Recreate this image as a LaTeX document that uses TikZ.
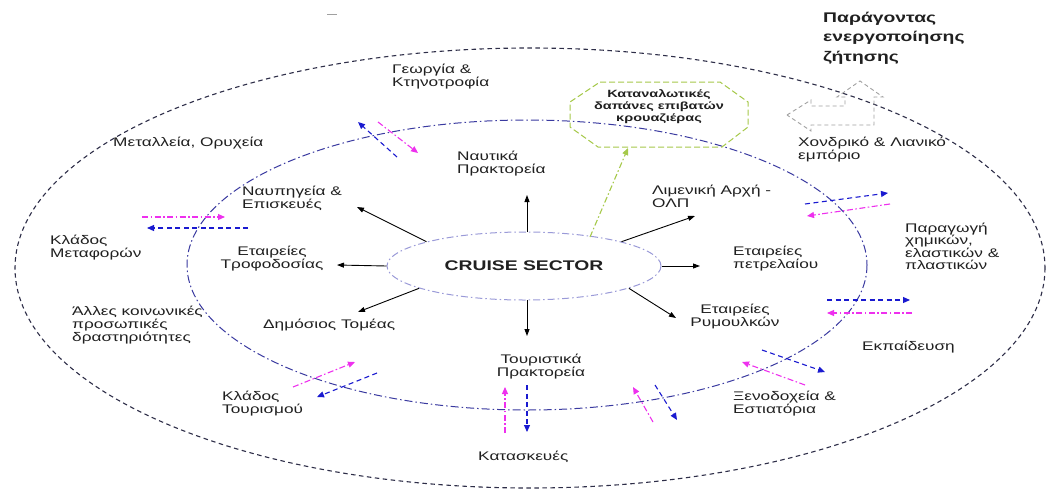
\documentclass[tikz,border=0pt]{standalone}
\usepackage{fontspec}
\setmainfont{Liberation Sans}[FakeStretch=1.38]
\usetikzlibrary{arrows.meta,shapes.geometric}
\definecolor{outerc}{HTML}{2E2E48}
\definecolor{innerc}{HTML}{3A3AA0}
\definecolor{corec}{HTML}{9A9AD8}
\definecolor{bluea}{HTML}{1A1AD0}
\definecolor{maga}{HTML}{EE30EE}
\definecolor{greenc}{HTML}{A6C94A}
\definecolor{grayc}{HTML}{A0A0A0}
\definecolor{txt}{HTML}{202020}
\begin{document}
\begin{tikzpicture}[x=1pt,y=-1pt,
  lbl/.style={font=\fontsize{12.5}{13}\selectfont, text=txt, inner sep=0pt, align=left, anchor=west},
  lblc/.style={font=\fontsize{12.5}{13}\selectfont, text=txt, inner sep=0pt, align=center, anchor=center},
  blk/.style={-{Triangle[length=7pt,width=5pt]}, line width=0.9pt, black},
  barr/.style={bluea, line width=1.1pt, dash pattern=on 5pt off 3.5pt, -{Triangle[length=7pt,width=6pt]}},
  marr/.style={maga, line width=1.1pt, dash pattern=on 6pt off 2.5pt on 1.5pt off 2.5pt, -{Triangle[length=7pt,width=6pt]}},
  garr/.style={greenc, line width=1.1pt, dash pattern=on 6pt off 2.5pt on 1.5pt off 2.5pt, -{Triangle[length=7pt,width=6pt]}}
]
\useasboundingbox (0,0) rectangle (1052,490);
\fill[white] (0,0) rectangle (1052,490);

% small mark at top
\draw[grayc, line width=0.8pt] (327,14) -- (337,14);

% outer and inner rings
\draw[outerc, line width=1.1pt, dash pattern=on 4.5pt off 3.5pt] (530,268) ellipse [x radius=515, y radius=220];
\draw[innerc, line width=1pt, dash pattern=on 8pt off 3pt on 1.5pt off 3pt] (527,265) ellipse [x radius=340, y radius=145];

% core
\node[ellipse, draw=corec, line width=1pt, dash pattern=on 7pt off 3pt on 1.5pt off 3pt,
      minimum width=274pt, minimum height=68pt, inner sep=0pt,
      font=\bfseries\fontsize{14}{15}\selectfont, text=txt] (cs) at (524,266) {CRUISE SECTOR};

% labels
\node[lbl] (geo) at (392,76.5) {Γεωργία \&\\Κτηνοτροφία};
\node[lbl] (met) at (113,143) {Μεταλλεία, Ορυχεία};
\node[lbl] (nav) at (457,163.5) {Ναυτικά\\Πρακτορεία};
\node[lbl] (nau) at (242,198.5) {Ναυπηγεία \&\\Επισκευές};
\node[lbl] (kme) at (50,247.5) {Κλάδος\\Μεταφορών};
\node[lblc] (tro) at (272,258.5) {Εταιρείες\\Τροφοδοσίας};
\node[lbl] (all) at (72,325) {Άλλες κοινωνικές\\προσωπικές\\δραστηριότητες};
\node[lbl] (dim) at (263,325) {Δημόσιος Τομέας};
\node[lbl] (ktou) at (222,403.5) {Κλάδος\\Τουρισμού};
\node[lblc] (toup) at (541,366.5) {Τουριστικά\\Πρακτορεία};
\node[lbl] (kat) at (478,457) {Κατασκευές};
\node[lbl] (xen) at (733,403.5) {Ξενοδοχεία \&\\Εστιατόρια};
\node[lbl] (ekp) at (862,347) {Εκπαίδευση};
\node[lblc] (rym) at (735,316) {Εταιρείες\\Ρυμουλκών};
\node[lbl] (pet) at (733,258.5) {Εταιρείες\\πετρελαίου};
\node[lbl] (lim) at (652,196.5) {Λιμενική Αρχή -\\ΟΛΠ};
\node[lbl] (cho) at (798,149.5) {Χονδρικό \& Λιανικό\\εμπόριο};
\node[lbl, font=\fontsize{12.5}{12.5}\selectfont] (par) at (905,246.5) {Παραγωγή\\χημικών,\\ελαστικών \&\\πλαστικών};
\node[lbl, font=\bfseries\fontsize{14}{19.5}\selectfont] (fac) at (823,38) {Παράγοντας\\ενεργοποίησης\\ζήτησης};

% green octagon
\draw[greenc, line width=1pt, dash pattern=on 6pt off 3pt]
  (600,82) -- (720,82) -- (748,102) -- (748,127) -- (722,147) -- (598,147) -- (570,127) -- (570,102) -- cycle;
\node[lblc, font=\bfseries\fontsize{10.5}{12}\selectfont] (oct) at (659,107) {Καταναλωτικές\\δαπάνες επιβατών\\κρουαζιέρας};
\coordinate (octb) at (628,148);
\coordinate (gst) at (590,237);
\draw[garr] (gst) -- (octb);

% left-up block arrow
\draw[grayc, line width=0.9pt, dash pattern=on 4pt off 3pt]
  (787,115) -- (811,100) -- (811,106) -- (845,106) -- (845,97) -- (837,97) -- (860,81)
  -- (883,97) -- (874,97) -- (874,125) -- (811,125) -- (811,131) -- cycle;

% black arrows from the core
\coordinate (eN) at (527,195);
\coordinate (sN) at (527,232);
\coordinate (eNW) at (357,207);
\coordinate (eW) at (337,265);
\coordinate (eSW) at (358,312);
\coordinate (eS) at (527,336);
\coordinate (sS) at (527,300);
\coordinate (eSE) at (676,318);
\coordinate (eE) at (700,266);
\coordinate (eNE) at (695,216);
\draw[blk] (sN) -- (eN);
\draw[blk] (cs.166) -- (eNW);
\draw[blk] (cs.west) -- (eW);
\draw[blk] (cs.192) -- (eSW);
\draw[blk] (sS) -- (eS);
\draw[blk] (cs.348) -- (eSE);
\draw[blk] (cs.east) -- (eE);
\draw[blk] (cs.14) -- (eNE);

% coloured exchange arrows
\coordinate (b1s) at (397,157); \coordinate (b1e) at (358,122);
\coordinate (m1s) at (378,122); \coordinate (m1e) at (418,153);
\coordinate (m2s) at (142,217); \coordinate (m2e) at (225,217);
\coordinate (b2s) at (248,228); \coordinate (b2e) at (147,228);
\coordinate (m3s) at (293,387); \coordinate (m3e) at (355,362);
\coordinate (b3s) at (377,373); \coordinate (b3e) at (317,397);
\coordinate (m4s) at (505,433); \coordinate (m4e) at (505,387);
\coordinate (b4s) at (527,385); \coordinate (b4e) at (527,432);
\coordinate (m5s) at (653,422); \coordinate (m5e) at (633,387);
\coordinate (b5s) at (655,385); \coordinate (b5e) at (677,420);
\coordinate (b6s) at (762,350); \coordinate (b6e) at (825,372);
\coordinate (m6s) at (805,385); \coordinate (m6e) at (742,362);
\coordinate (b7s) at (827,300); \coordinate (b7e) at (910,300);
\coordinate (m7s) at (912,313); \coordinate (m7e) at (827,313);
\coordinate (b8s) at (805,204); \coordinate (b8e) at (888,193);
\coordinate (m8s) at (890,204); \coordinate (m8e) at (807,216);
\draw[barr] (b1s) -- (b1e); \draw[marr] (m1s) -- (m1e);
\draw[marr] (m2s) -- (m2e); \draw[barr] (b2s) -- (b2e);
\draw[marr] (m3s) -- (m3e); \draw[barr] (b3s) -- (b3e);
\draw[marr] (m4s) -- (m4e); \draw[barr] (b4s) -- (b4e);
\draw[marr] (m5s) -- (m5e); \draw[barr] (b5s) -- (b5e);
\draw[barr] (b6s) -- (b6e); \draw[marr] (m6s) -- (m6e);
\draw[barr] (b7s) -- (b7e); \draw[marr] (m7s) -- (m7e);
\draw[barr] (b8s) -- (b8e); \draw[marr] (m8s) -- (m8e);
\end{tikzpicture}
\end{document}
